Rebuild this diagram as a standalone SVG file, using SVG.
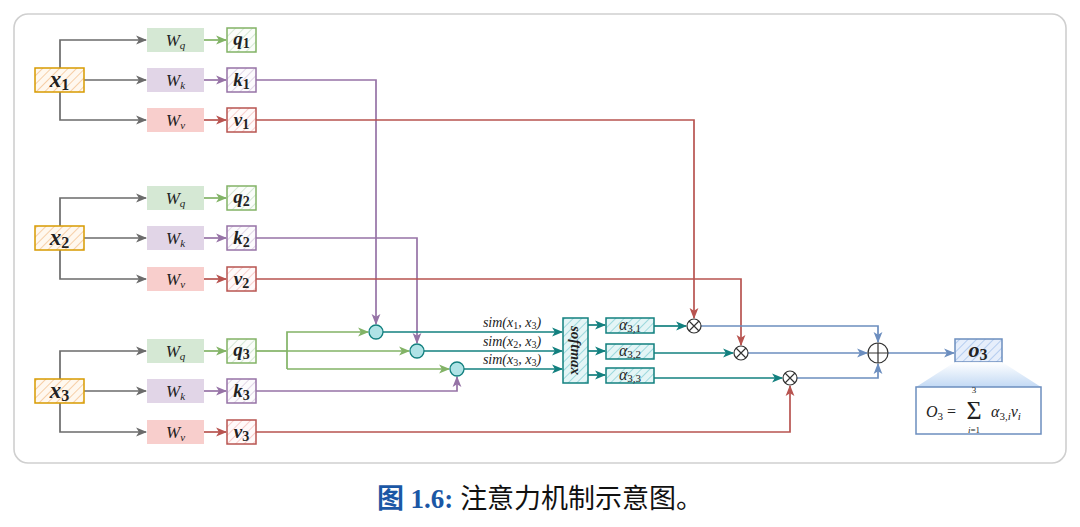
<svg xmlns="http://www.w3.org/2000/svg" width="1080" height="527" viewBox="0 0 1080 527">
<style>
.m{font-family:"Liberation Serif","DejaVu Serif",serif;font-style:italic;fill:#222}
.b{font-weight:bold}
.n{font-style:normal}
.ln{fill:none;stroke-width:1.7}
.gy{stroke:#6b6b6b}.gr{stroke:#82b366}.pu{stroke:#9673a6}.rd{stroke:#b85450}.tl{stroke:#12807f}.bl{stroke:#6c8ebf}
.xl{font-size:23px}.xs{font-size:16px}
.wl{font-size:17px}.ws{font-size:11px}
.ql{font-size:19px}.qs{font-size:14px}
</style>
<defs>
<pattern id="hO" width="6" height="6" patternUnits="userSpaceOnUse" patternTransform="rotate(45)"><rect width="6" height="6" fill="#fff8ef"/><line x1="0" y1="0" x2="0" y2="6" stroke="#f6cfa8" stroke-width="2"/></pattern>
<pattern id="hG" width="6" height="6" patternUnits="userSpaceOnUse" patternTransform="rotate(45)"><rect width="6" height="6" fill="#fbfdfa"/><line x1="0" y1="0" x2="0" y2="6" stroke="#d5e8d4" stroke-width="2"/></pattern>
<pattern id="hP" width="6" height="6" patternUnits="userSpaceOnUse" patternTransform="rotate(45)"><rect width="6" height="6" fill="#fcfbfd"/><line x1="0" y1="0" x2="0" y2="6" stroke="#e1d5e7" stroke-width="2"/></pattern>
<pattern id="hR" width="6" height="6" patternUnits="userSpaceOnUse" patternTransform="rotate(45)"><rect width="6" height="6" fill="#fffafa"/><line x1="0" y1="0" x2="0" y2="6" stroke="#f8cecc" stroke-width="2"/></pattern>
<pattern id="hT" width="6" height="6" patternUnits="userSpaceOnUse" patternTransform="rotate(45)"><rect width="6" height="6" fill="#e4f5f6"/><line x1="0" y1="0" x2="0" y2="6" stroke="#9fd9dd" stroke-width="2"/></pattern>
<pattern id="hB" width="6" height="6" patternUnits="userSpaceOnUse" patternTransform="rotate(45)"><rect width="6" height="6" fill="#e6eefb"/><line x1="0" y1="0" x2="0" y2="6" stroke="#b5cdef" stroke-width="2"/></pattern>
<linearGradient id="tr" x1="0" y1="0" x2="0" y2="1"><stop offset="0" stop-color="#ffffff"/><stop offset="1" stop-color="#bcd5f3"/></linearGradient>
<marker id="aGy" viewBox="0 0 10 10" refX="9" refY="5" markerWidth="11" markerHeight="11" markerUnits="userSpaceOnUse" orient="auto"><path d="M0,1 L10,5 L0,9 L2.5,5z" fill="#6b6b6b"/></marker>
<marker id="aGr" viewBox="0 0 10 10" refX="9" refY="5" markerWidth="11" markerHeight="11" markerUnits="userSpaceOnUse" orient="auto"><path d="M0,1 L10,5 L0,9 L2.5,5z" fill="#82b366"/></marker>
<marker id="aPu" viewBox="0 0 10 10" refX="9" refY="5" markerWidth="11" markerHeight="11" markerUnits="userSpaceOnUse" orient="auto"><path d="M0,1 L10,5 L0,9 L2.5,5z" fill="#9673a6"/></marker>
<marker id="aRd" viewBox="0 0 10 10" refX="9" refY="5" markerWidth="11" markerHeight="11" markerUnits="userSpaceOnUse" orient="auto"><path d="M0,1 L10,5 L0,9 L2.5,5z" fill="#b85450"/></marker>
<marker id="aTl" viewBox="0 0 10 10" refX="9" refY="5" markerWidth="11" markerHeight="11" markerUnits="userSpaceOnUse" orient="auto"><path d="M0,1 L10,5 L0,9 L2.5,5z" fill="#12807f"/></marker>
<marker id="aBl" viewBox="0 0 10 10" refX="9" refY="5" markerWidth="11" markerHeight="11" markerUnits="userSpaceOnUse" orient="auto"><path d="M0,1 L10,5 L0,9 L2.5,5z" fill="#6c8ebf"/></marker>
</defs>

<rect x="14" y="14" width="1052" height="449" rx="14" fill="#fff" stroke="#cfcfcf" stroke-width="1.6"/>

<g id="connectors">
<path class="ln gy" d="M60,68 V40 H146" marker-end="url(#aGy)"/>
<path class="ln gy" d="M84,80 H146" marker-end="url(#aGy)"/>
<path class="ln gy" d="M60,92 V120 H146" marker-end="url(#aGy)"/>
<path class="ln gy" d="M60,226 V198 H146" marker-end="url(#aGy)"/>
<path class="ln gy" d="M84,238 H146" marker-end="url(#aGy)"/>
<path class="ln gy" d="M60,250 V279 H146" marker-end="url(#aGy)"/>
<path class="ln gy" d="M60,379 V351 H146" marker-end="url(#aGy)"/>
<path class="ln gy" d="M84,391 H146" marker-end="url(#aGy)"/>
<path class="ln gy" d="M60,403 V432 H146" marker-end="url(#aGy)"/>
<path class="ln gr" d="M204,40 H226" marker-end="url(#aGr)"/>
<path class="ln pu" d="M204,80 H226" marker-end="url(#aPu)"/>
<path class="ln rd" d="M204,120 H226" marker-end="url(#aRd)"/>
<path class="ln gr" d="M204,198 H226" marker-end="url(#aGr)"/>
<path class="ln pu" d="M204,238 H226" marker-end="url(#aPu)"/>
<path class="ln rd" d="M204,279 H226" marker-end="url(#aRd)"/>
<path class="ln gr" d="M204,351 H226" marker-end="url(#aGr)"/>
<path class="ln pu" d="M204,391 H226" marker-end="url(#aPu)"/>
<path class="ln rd" d="M204,432 H226" marker-end="url(#aRd)"/>
<path class="ln pu" d="M256,80 H376 V324" marker-end="url(#aPu)"/>
<path class="ln pu" d="M256,238 H417 V343" marker-end="url(#aPu)"/>
<path class="ln pu" d="M256,391 H457 V377" marker-end="url(#aPu)"/>
<path class="ln gr" d="M256,351 H287"/>
<path class="ln gr" d="M287,369 V332 H368" marker-end="url(#aGr)"/>
<path class="ln gr" d="M287,351 H409" marker-end="url(#aGr)"/>
<path class="ln gr" d="M287,369 H449" marker-end="url(#aGr)"/>
<path class="ln tl" d="M383,332 H562" marker-end="url(#aTl)"/>
<path class="ln tl" d="M424,351 H562" marker-end="url(#aTl)"/>
<path class="ln tl" d="M464,369 H562" marker-end="url(#aTl)"/>
<path class="ln tl" d="M588,325 H605" marker-end="url(#aTl)"/>
<path class="ln tl" d="M588,351 H605" marker-end="url(#aTl)"/>
<path class="ln tl" d="M588,375 H605" marker-end="url(#aTl)"/>
<path class="ln tl" d="M654,326 H686" marker-end="url(#aTl)"/>
<path class="ln tl" d="M654,353 H733" marker-end="url(#aTl)"/>
<path class="ln tl" d="M654,378 H782" marker-end="url(#aTl)"/>
<path class="ln rd" d="M256,120 H694 V318" marker-end="url(#aRd)"/>
<path class="ln rd" d="M256,279 H741 V345" marker-end="url(#aRd)"/>
<path class="ln rd" d="M256,432 H790 V386" marker-end="url(#aRd)"/>
<path class="ln bl" d="M701,326 H878 V342" marker-end="url(#aBl)"/>
<path class="ln bl" d="M748,353 H867" marker-end="url(#aBl)"/>
<path class="ln bl" d="M797,378 H878 V364" marker-end="url(#aBl)"/>
<path class="ln bl" d="M888,353 H954" marker-end="url(#aBl)"/>
</g>

<g id="node-x1"><rect x="35" y="68" width="49" height="24" fill="url(#hO)" stroke="#d79b00" stroke-width="1.5"/><text class="m b xl" x="59.5" y="87" text-anchor="middle">x<tspan class="n xs" dy="3">1</tspan></text></g>
<g id="node-wq1"><rect x="147" y="28" width="57" height="24" fill="#d5e8d4"/><text class="m wl" x="175.5" y="46" text-anchor="middle">W<tspan class="ws" dy="3">q</tspan></text></g>
<g id="node-wk1"><rect x="147" y="68" width="57" height="24" fill="#e1d5e7"/><text class="m wl" x="175.5" y="86" text-anchor="middle">W<tspan class="ws" dy="3">k</tspan></text></g>
<g id="node-wv1"><rect x="147" y="108" width="57" height="24" fill="#f8cecc"/><text class="m wl" x="175.5" y="126" text-anchor="middle">W<tspan class="ws" dy="3">v</tspan></text></g>
<g id="node-q1"><rect x="227" y="28" width="29" height="24" fill="url(#hG)" stroke="#82b366" stroke-width="1.5"/><text class="m b ql" x="241.5" y="45" text-anchor="middle">q<tspan class="n qs" dy="3">1</tspan></text></g>
<g id="node-k1"><rect x="227" y="68" width="29" height="24" fill="url(#hP)" stroke="#9673a6" stroke-width="1.5"/><text class="m b ql" x="241.5" y="86" text-anchor="middle">k<tspan class="n qs" dy="3">1</tspan></text></g>
<g id="node-v1"><rect x="227" y="108" width="29" height="24" fill="url(#hR)" stroke="#b85450" stroke-width="1.5"/><text class="m b ql" x="241.5" y="126" text-anchor="middle">v<tspan class="n qs" dy="3">1</tspan></text></g>

<g id="node-x2"><rect x="35" y="226" width="49" height="24" fill="url(#hO)" stroke="#d79b00" stroke-width="1.5"/><text class="m b xl" x="59.5" y="245" text-anchor="middle">x<tspan class="n xs" dy="3">2</tspan></text></g>
<g id="node-wq2"><rect x="147" y="186" width="57" height="24" fill="#d5e8d4"/><text class="m wl" x="175.5" y="204" text-anchor="middle">W<tspan class="ws" dy="3">q</tspan></text></g>
<g id="node-wk2"><rect x="147" y="226" width="57" height="24" fill="#e1d5e7"/><text class="m wl" x="175.5" y="244" text-anchor="middle">W<tspan class="ws" dy="3">k</tspan></text></g>
<g id="node-wv2"><rect x="147" y="267" width="57" height="24" fill="#f8cecc"/><text class="m wl" x="175.5" y="285" text-anchor="middle">W<tspan class="ws" dy="3">v</tspan></text></g>
<g id="node-q2"><rect x="227" y="186" width="29" height="24" fill="url(#hG)" stroke="#82b366" stroke-width="1.5"/><text class="m b ql" x="241.5" y="203" text-anchor="middle">q<tspan class="n qs" dy="3">2</tspan></text></g>
<g id="node-k2"><rect x="227" y="226" width="29" height="24" fill="url(#hP)" stroke="#9673a6" stroke-width="1.5"/><text class="m b ql" x="241.5" y="244" text-anchor="middle">k<tspan class="n qs" dy="3">2</tspan></text></g>
<g id="node-v2"><rect x="227" y="267" width="29" height="24" fill="url(#hR)" stroke="#b85450" stroke-width="1.5"/><text class="m b ql" x="241.5" y="285" text-anchor="middle">v<tspan class="n qs" dy="3">2</tspan></text></g>

<g id="node-x3"><rect x="35" y="379" width="49" height="24" fill="url(#hO)" stroke="#d79b00" stroke-width="1.5"/><text class="m b xl" x="59.5" y="398" text-anchor="middle">x<tspan class="n xs" dy="3">3</tspan></text></g>
<g id="node-wq3"><rect x="147" y="339" width="57" height="24" fill="#d5e8d4"/><text class="m wl" x="175.5" y="357" text-anchor="middle">W<tspan class="ws" dy="3">q</tspan></text></g>
<g id="node-wk3"><rect x="147" y="379" width="57" height="24" fill="#e1d5e7"/><text class="m wl" x="175.5" y="397" text-anchor="middle">W<tspan class="ws" dy="3">k</tspan></text></g>
<g id="node-wv3"><rect x="147" y="420" width="57" height="24" fill="#f8cecc"/><text class="m wl" x="175.5" y="438" text-anchor="middle">W<tspan class="ws" dy="3">v</tspan></text></g>
<g id="node-q3"><rect x="227" y="339" width="29" height="24" fill="url(#hG)" stroke="#82b366" stroke-width="1.5"/><text class="m b ql" x="241.5" y="356" text-anchor="middle">q<tspan class="n qs" dy="3">3</tspan></text></g>
<g id="node-k3"><rect x="227" y="379" width="29" height="24" fill="url(#hP)" stroke="#9673a6" stroke-width="1.5"/><text class="m b ql" x="241.5" y="397" text-anchor="middle">k<tspan class="n qs" dy="3">3</tspan></text></g>
<g id="node-v3"><rect x="227" y="420" width="29" height="24" fill="url(#hR)" stroke="#b85450" stroke-width="1.5"/><text class="m b ql" x="241.5" y="438" text-anchor="middle">v<tspan class="n qs" dy="3">3</tspan></text></g>

<g id="node-c1"><circle cx="376" cy="332" r="7" fill="#b0e3e6" stroke="#12807f" stroke-width="1.3"/></g>
<g id="node-c2"><circle cx="417" cy="351" r="7" fill="#b0e3e6" stroke="#12807f" stroke-width="1.3"/></g>
<g id="node-c3"><circle cx="457" cy="369" r="7" fill="#b0e3e6" stroke="#12807f" stroke-width="1.3"/></g>

<g id="label-sim1"><text class="m" x="512" y="327" font-size="14" text-anchor="middle">sim(x<tspan class="n" font-size="10" dy="2">1</tspan><tspan dy="-2">, x</tspan><tspan class="n" font-size="10" dy="2">3</tspan><tspan dy="-2">)</tspan></text></g>
<g id="label-sim2"><text class="m" x="512" y="346" font-size="14" text-anchor="middle">sim(x<tspan class="n" font-size="10" dy="2">2</tspan><tspan dy="-2">, x</tspan><tspan class="n" font-size="10" dy="2">3</tspan><tspan dy="-2">)</tspan></text></g>
<g id="label-sim3"><text class="m" x="512" y="364" font-size="14" text-anchor="middle">sim(x<tspan class="n" font-size="10" dy="2">3</tspan><tspan dy="-2">, x</tspan><tspan class="n" font-size="10" dy="2">3</tspan><tspan dy="-2">)</tspan></text></g>

<g id="node-softmax"><rect x="563" y="318" width="25" height="65" fill="url(#hT)" stroke="#12807f" stroke-width="1.5"/><text class="m b" transform="translate(575.5,350.5) rotate(90)" x="0" y="5" font-size="15" text-anchor="middle">softmax</text></g>

<g id="node-a1"><rect x="606" y="318" width="48" height="15" fill="url(#hT)" stroke="#12807f" stroke-width="1.5"/><text class="m" x="630" y="330" font-size="16" text-anchor="middle">α<tspan class="n" font-size="11" dy="2">3,1</tspan></text></g>
<g id="node-a2"><rect x="606" y="344" width="48" height="15" fill="url(#hT)" stroke="#12807f" stroke-width="1.5"/><text class="m" x="630" y="356" font-size="16" text-anchor="middle">α<tspan class="n" font-size="11" dy="2">3,2</tspan></text></g>
<g id="node-a3"><rect x="606" y="368" width="48" height="15" fill="url(#hT)" stroke="#12807f" stroke-width="1.5"/><text class="m" x="630" y="380" font-size="16" text-anchor="middle">α<tspan class="n" font-size="11" dy="2">3,3</tspan></text></g>

<g id="node-m1" fill="#fff" stroke="#333" stroke-width="1.2"><circle cx="694" cy="326" r="7"/><path d="M689,321 L699,331 M699,321 L689,331"/></g>
<g id="node-m2" fill="#fff" stroke="#333" stroke-width="1.2"><circle cx="741" cy="353" r="7"/><path d="M736,348 L746,358 M746,348 L736,358"/></g>
<g id="node-m3" fill="#fff" stroke="#333" stroke-width="1.2"><circle cx="790" cy="378" r="7"/><path d="M785,373 L795,383 M795,373 L785,383"/></g>

<g id="node-plus" fill="#fff" stroke="#333" stroke-width="1.2"><circle cx="878" cy="353" r="10"/><path d="M868,353 H888 M878,343 V363"/></g>

<g id="node-o3"><rect x="955" y="339" width="47" height="23" fill="url(#hB)" stroke="#6c8ebf" stroke-width="1.5"/><text class="m b" x="978" y="357" font-size="22" text-anchor="middle">o<tspan class="n" font-size="16" dy="3">3</tspan></text></g>
<g id="node-formula">
<polygon points="955,362 1002,362 1041,387 916,387" fill="url(#tr)" opacity="0.9"/>
<rect x="916" y="387" width="125" height="47" fill="#fff" stroke="#6c8ebf" stroke-width="1.5"/>
<text class="m" x="926" y="417" font-size="16">O<tspan class="n" font-size="11" dy="3">3</tspan><tspan class="n" dy="-3"> =</tspan></text>
<text class="n" x="974" y="419" font-size="26" text-anchor="middle" font-family="Liberation Serif,DejaVu Serif,serif" fill="#222">Σ</text>
<text class="n" x="974" y="393" font-size="9" text-anchor="middle" font-family="Liberation Serif,DejaVu Serif,serif" fill="#222">3</text>
<text class="m" x="974" y="433" font-size="9" text-anchor="middle">i<tspan class="n">=1</tspan></text>
<text class="m" x="991" y="417" font-size="16">α<tspan class="n" font-size="11" dy="3">3,</tspan><tspan font-size="11">i</tspan><tspan dy="-3">v</tspan><tspan font-size="11" dy="3">i</tspan></text>
</g>

<text x="540" y="508" font-size="27" text-anchor="middle" font-family="Liberation Serif,Noto Sans CJK SC,serif" fill="#111"><tspan fill="#1b57a5" font-weight="bold">图 1.6:</tspan> 注意力机制示意图。</text>
</svg>
